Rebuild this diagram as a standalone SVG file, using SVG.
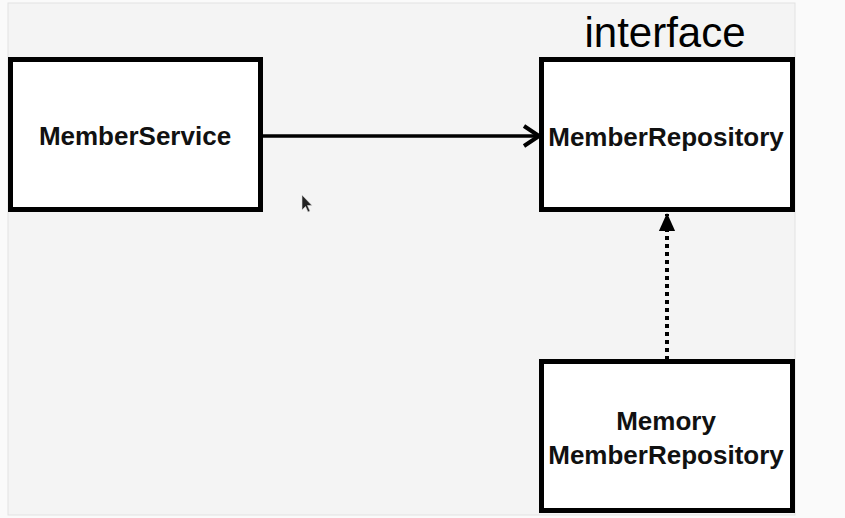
<svg xmlns="http://www.w3.org/2000/svg" width="845" height="518" viewBox="0 0 845 518">
<style>
.box{fill:#ffffff;stroke:#000000;stroke-width:5}
.lbl{font-family:"Liberation Sans",Arial,sans-serif;font-weight:bold;font-size:26px;fill:#111111;text-anchor:middle}
.title{font-family:"Liberation Sans",Arial,sans-serif;font-size:42px;fill:#000000;text-anchor:middle}
.edge{stroke:#000000;stroke-width:3.5;fill:none}
</style>
<defs>
<marker id="open" viewBox="0 0 20 24" refX="17" refY="12" markerWidth="20" markerHeight="24" markerUnits="userSpaceOnUse" orient="auto">
<path d="M2,2 L17,12 L2,22" fill="none" stroke="#000" stroke-width="4"/>
</marker>
<marker id="tri" viewBox="0 0 20 20" refX="19" refY="10" markerWidth="20" markerHeight="18" markerUnits="userSpaceOnUse" orient="auto">
<path d="M0,1 L20,10 L0,19 Z" fill="#000"/>
</marker>
</defs>
<rect x="0" y="0" width="845" height="518" fill="#fafafa"/>
<rect x="8" y="3" width="787" height="512" fill="#f4f4f4" stroke="#e2e2e2" stroke-width="1"/>
<g id="connectors">
<line class="edge" x1="263" y1="136" x2="539" y2="136" marker-end="url(#open)"/>
<line x1="667" y1="360" x2="667" y2="214" stroke="#000" stroke-width="4" stroke-dasharray="4 4" marker-end="url(#tri)"/>
</g>
<g id="MemberService">
<rect class="box" x="10.5" y="59.5" width="250" height="150"/>
<text class="lbl" x="135" y="145">MemberService</text>
</g>
<g id="MemberRepository">
<text class="title" x="665" y="47">interface</text>
<rect class="box" x="541.5" y="59.5" width="251" height="150"/>
<text class="lbl" x="666" y="146">MemberRepository</text>
</g>
<g id="MemoryMemberRepository">
<rect class="box" x="541.5" y="361.5" width="251" height="149"/>
<text class="lbl" x="666" y="430">Memory</text>
<text class="lbl" x="666" y="464">MemberRepository</text>
</g>
<path d="M302,195 L302,210 L305.5,206.5 L308,212 L310,211 L307.5,205.5 L312,205.5 Z" fill="#222" stroke="#ddd" stroke-width="0.6"/>
</svg>
